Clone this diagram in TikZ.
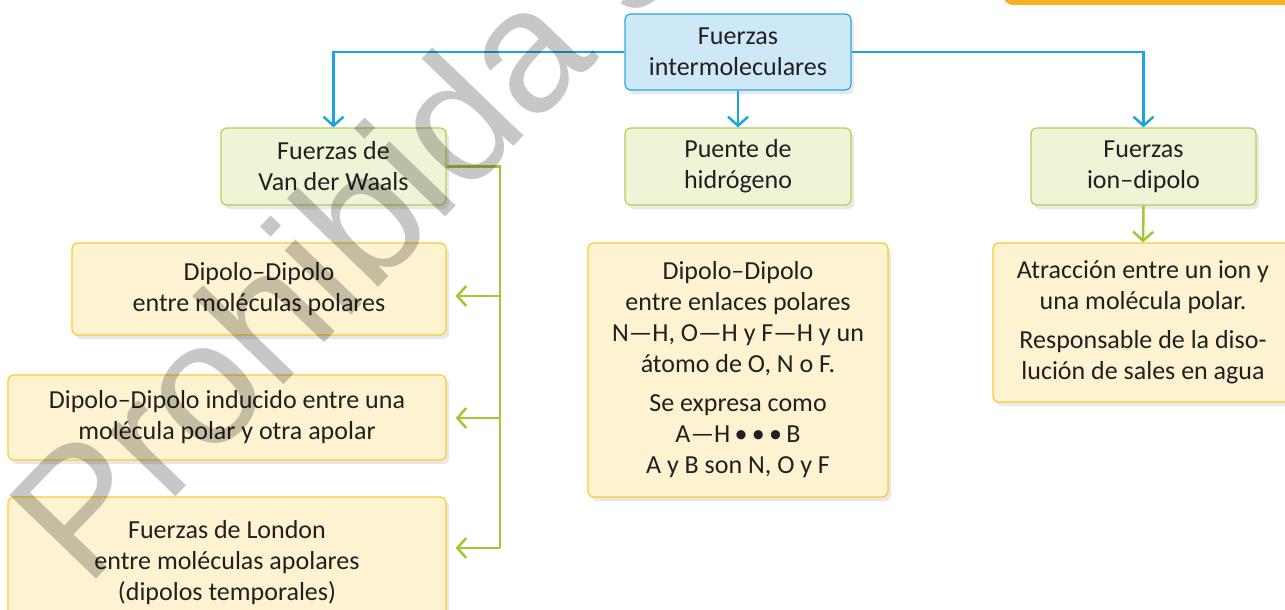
\documentclass[tikz,border=0pt]{standalone}
\usepackage{fontspec}
\setmainfont{Carlito}
\usetikzlibrary{arrows.meta,shadows}
\definecolor{txt}{RGB}{35,31,32}
\definecolor{bline}{RGB}{27,163,226}
\definecolor{bfill}{RGB}{205,233,248}
\definecolor{bborder}{RGB}{42,166,224}
\definecolor{gline}{RGB}{163,198,52}
\definecolor{gfill}{RGB}{238,244,214}
\definecolor{gborder}{RGB}{183,207,84}
\definecolor{yfill}{RGB}{253,243,208}
\definecolor{yborder}{RGB}{249,204,46}
\definecolor{tab}{RGB}{246,176,32}
\tikzset{
  basebox/.style={rounded corners=6pt, line width=1.2pt, align=center, text=txt, inner sep=0pt,
    font=\fontsize{26}{31}\selectfont,
    drop shadow={opacity=0.18, shadow xshift=3pt, shadow yshift=-4pt}},
  topbox/.style={basebox, draw=bborder, fill=bfill},
  gbox/.style={basebox, draw=gborder, fill=gfill},
  ybox/.style={basebox, draw=yborder, fill=yfill},
  barrow/.style={draw=bline, line width=2.5pt, -{Straight Barb[length=9pt,width=20pt]}},
  gconn/.style={draw=gline, line width=2.5pt},
  garrow/.style={gconn, -{Straight Barb[length=9pt,width=20pt]}},
}
\begin{document}
\begin{tikzpicture}[x=1pt,y=-1pt]
\useasboundingbox (0,0) rectangle (1285,610);
\clip (0,0) rectangle (1285,610);
\fill[white] (0,0) rectangle (1285,610);
\fill[tab, rounded corners=10pt] (1003,-20) rectangle (1300,5);

\node[topbox, minimum width=226pt, minimum height=76pt] (top) at (738,52) {Fuerzas\\intermoleculares};
\node[gbox, minimum width=225pt, minimum height=77pt] (vdw) at (333.5,166.5) {Fuerzas de\\Van der Waals};
\node[gbox, minimum width=226pt, minimum height=77pt] (ph) at (738,166.5) {Puente de\\hidrógeno};
\node[gbox, minimum width=225pt, minimum height=77pt] (iond) at (1143.5,166.5) {Fuerzas\\ion–dipolo};

\node[ybox, minimum width=374pt, minimum height=92pt] (dd) at (259,289) {Dipolo–Dipolo\\entre moléculas polares};
\node[ybox, minimum width=438pt, minimum height=85pt] (ddi) at (227,417.5) {Dipolo–Dipolo inducido entre una\\molécula polar y otra apolar};
\node[ybox, minimum width=438pt, minimum height=131pt] (lon) at (227,562.5) {Fuerzas de London\\entre moléculas apolares\\(dipolos temporales)};
\node[ybox, minimum width=300pt, minimum height=254pt] (phy) at (738,370) {Dipolo–Dipolo\\entre enlaces polares\\N—H, O—H y F—H y un\\átomo de O, N o F.\\[8pt]Se expresa como\\A—H\,•\,•\,•\,B\\A y B son N, O y F};
\node[ybox, minimum width=300pt, minimum height=159pt] (iony) at (1143,322.5) {Atracción entre un ion y\\una molécula polar.\\[8pt]Responsable de la diso-\\lución de sales en agua};

\draw[barrow] (top.west) -| (vdw.north);
\draw[barrow] (top.east) -| (iond.north);
\draw[barrow] (top.south) -- (ph.north);

\coordinate (gj0) at (500,166.5);
\coordinate (gj1) at (500,296);
\coordinate (gj2) at (500,418);
\coordinate (gj3) at (500,548);
\draw[gconn] (vdw.east) -- (gj0) -- (gj3);
\draw[garrow, shorten >=9pt] (gj1) -- (dd.east |- gj1);
\draw[garrow, shorten >=9pt] (gj2) -- (ddi.east |- gj2);
\draw[garrow, shorten >=9pt] (gj3) -- (lon.east |- gj3);
\draw[garrow] (iond.south) -- (iony.north);

\node[font=\fontspec{Liberation Sans}\fontsize{175}{175}\selectfont, text=black, opacity=0.22,
  anchor=base west, rotate=46] (wm) at (84,592) {Prohibida su venta};
\end{tikzpicture}
\end{document}
